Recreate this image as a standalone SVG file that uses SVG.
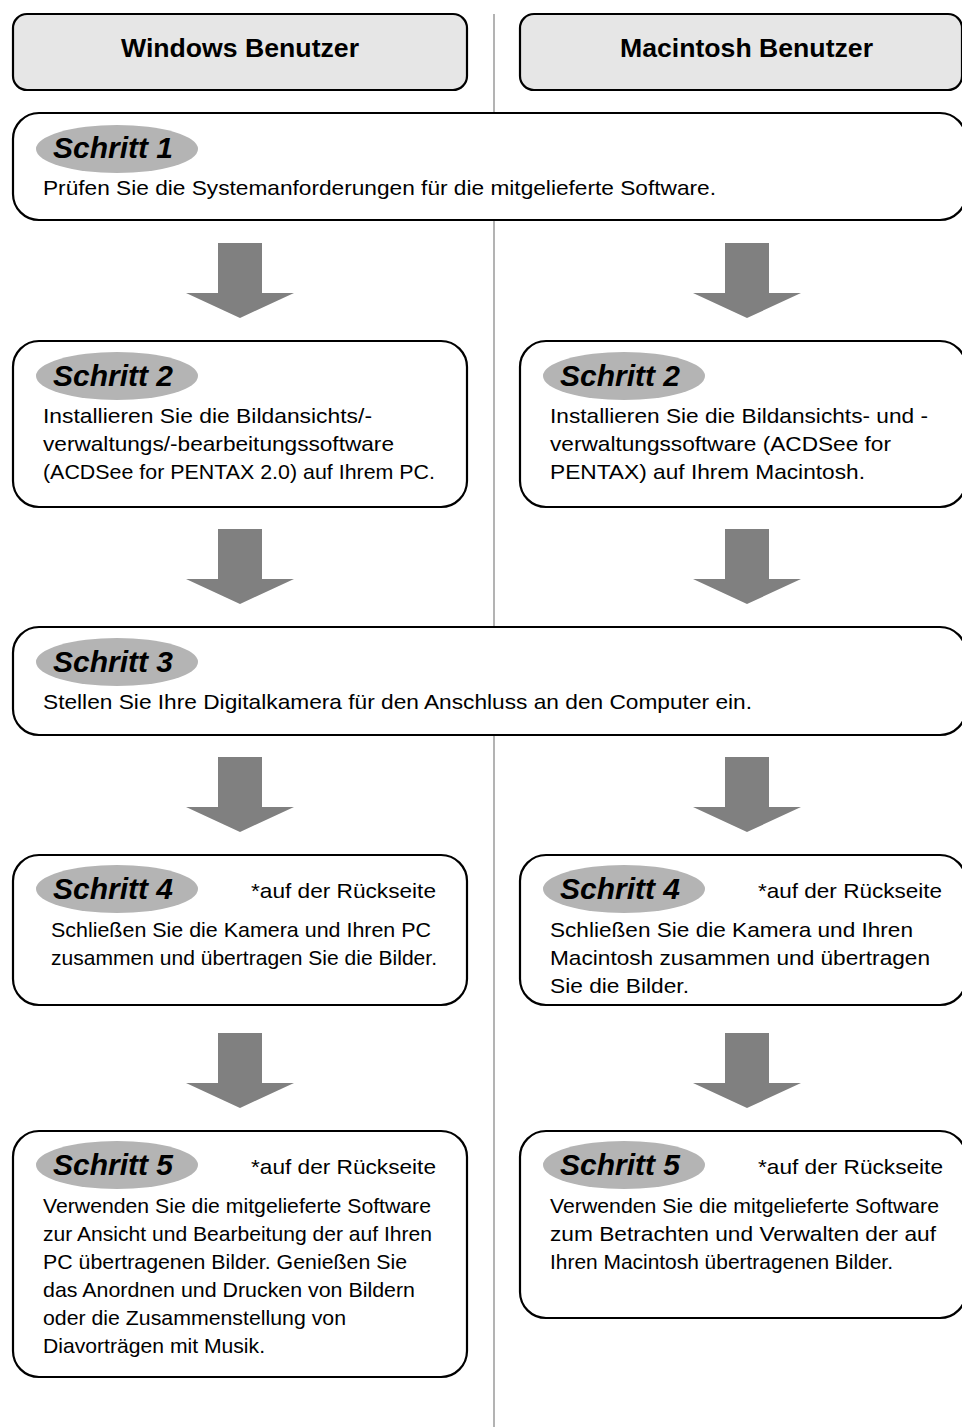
<svg xmlns="http://www.w3.org/2000/svg" width="962" height="1427" viewBox="0 0 962 1427">
<style>
.hdr{fill:#e6e6e6;stroke:#000;stroke-width:2.2}
.box{fill:#fff;stroke:#000;stroke-width:2.2}
.ell{fill:#b4b4b4}
.ht{font-family:"Liberation Sans",Arial,sans-serif;font-weight:bold;font-size:25px;fill:#000}
.st{font-family:"Liberation Sans",Arial,sans-serif;font-weight:bold;font-style:italic;font-size:30px;fill:#000}
.bt{font-family:"Liberation Sans",Arial,sans-serif;font-size:21px;fill:#000}
.arr{fill:#808080}
</style>
<defs>
<path id="arrow" d="M-22,0 H22 V50 H54 L0,75 L-54,50 H-22 Z"/>
</defs>
<line x1="494" y1="14" x2="494" y2="1427" stroke="#808080" stroke-width="1.2"/>
<g id="connectors">
<use href="#arrow" class="arr" x="240" y="243"/>
<use href="#arrow" class="arr" x="747" y="243"/>
<use href="#arrow" class="arr" x="240" y="529"/>
<use href="#arrow" class="arr" x="747" y="529"/>
<use href="#arrow" class="arr" x="240" y="757"/>
<use href="#arrow" class="arr" x="747" y="757"/>
<use href="#arrow" class="arr" x="240" y="1033"/>
<use href="#arrow" class="arr" x="747" y="1033"/>
</g>
<g id="hdr-win">
<rect class="hdr" x="13" y="14" width="454" height="76" rx="14"/>
<text class="ht" x="121" y="57" textLength="238" lengthAdjust="spacingAndGlyphs">Windows Benutzer</text>
</g>
<g id="hdr-mac">
<rect class="hdr" x="520" y="14" width="442" height="76" rx="14"/>
<text class="ht" x="620" y="57" textLength="253" lengthAdjust="spacingAndGlyphs">Macintosh Benutzer</text>
</g>
<g id="step1">
<rect class="box" x="13" y="113" width="953" height="107" rx="26"/>
<ellipse class="ell" cx="117" cy="149" rx="81" ry="24"/>
<text class="st" x="53" y="158">Schritt 1</text>
<text class="bt" x="43" y="195" textLength="673" lengthAdjust="spacingAndGlyphs">Prüfen Sie die Systemanforderungen für die mitgelieferte Software.</text>
</g>
<g id="step2-win">
<rect class="box" x="13" y="341" width="454" height="166" rx="26"/>
<ellipse class="ell" cx="117" cy="376" rx="81" ry="24"/>
<text class="st" x="53" y="386">Schritt 2</text>
<text class="bt" x="43" y="423" textLength="329" lengthAdjust="spacingAndGlyphs">Installieren Sie die Bildansichts/-</text>
<text class="bt" x="43" y="451" textLength="351" lengthAdjust="spacingAndGlyphs">verwaltungs/-bearbeitungssoftware</text>
<text class="bt" x="43" y="479" textLength="392" lengthAdjust="spacingAndGlyphs">(ACDSee for PENTAX 2.0) auf Ihrem PC.</text>
</g>
<g id="step2-mac">
<rect class="box" x="520" y="341" width="446" height="166" rx="26"/>
<ellipse class="ell" cx="624" cy="376" rx="81" ry="24"/>
<text class="st" x="560" y="386">Schritt 2</text>
<text class="bt" x="550" y="423" textLength="378" lengthAdjust="spacingAndGlyphs">Installieren Sie die Bildansichts- und -</text>
<text class="bt" x="550" y="451" textLength="341" lengthAdjust="spacingAndGlyphs">verwaltungssoftware (ACDSee for</text>
<text class="bt" x="550" y="479" textLength="315" lengthAdjust="spacingAndGlyphs">PENTAX) auf Ihrem Macintosh.</text>
</g>
<g id="step3">
<rect class="box" x="13" y="627" width="953" height="108" rx="26"/>
<ellipse class="ell" cx="117" cy="662" rx="81" ry="24"/>
<text class="st" x="53" y="672">Schritt 3</text>
<text class="bt" x="43" y="709" textLength="709" lengthAdjust="spacingAndGlyphs">Stellen Sie Ihre Digitalkamera für den Anschluss an den Computer ein.</text>
</g>
<g id="step4-win">
<rect class="box" x="13" y="855" width="454" height="150" rx="26"/>
<ellipse class="ell" cx="117" cy="889" rx="81" ry="24"/>
<text class="st" x="53" y="899">Schritt 4</text>
<text class="bt" x="251" y="898" textLength="185" lengthAdjust="spacingAndGlyphs">*auf der Rückseite</text>
<text class="bt" x="51" y="937" textLength="380" lengthAdjust="spacingAndGlyphs">Schließen Sie die Kamera und Ihren PC</text>
<text class="bt" x="51" y="965" textLength="386" lengthAdjust="spacingAndGlyphs">zusammen und übertragen Sie die Bilder.</text>
</g>
<g id="step4-mac">
<rect class="box" x="520" y="855" width="446" height="150" rx="26"/>
<ellipse class="ell" cx="624" cy="889" rx="81" ry="24"/>
<text class="st" x="560" y="899">Schritt 4</text>
<text class="bt" x="758" y="898" textLength="184" lengthAdjust="spacingAndGlyphs">*auf der Rückseite</text>
<text class="bt" x="550" y="937" textLength="363" lengthAdjust="spacingAndGlyphs">Schließen Sie die Kamera und Ihren</text>
<text class="bt" x="550" y="965" textLength="380" lengthAdjust="spacingAndGlyphs">Macintosh zusammen und übertragen</text>
<text class="bt" x="550" y="993" textLength="139" lengthAdjust="spacingAndGlyphs">Sie die Bilder.</text>
</g>
<g id="step5-win">
<rect class="box" x="13" y="1131" width="454" height="246" rx="26"/>
<ellipse class="ell" cx="117" cy="1165" rx="81" ry="24"/>
<text class="st" x="53" y="1175">Schritt 5</text>
<text class="bt" x="251" y="1174" textLength="185" lengthAdjust="spacingAndGlyphs">*auf der Rückseite</text>
<text class="bt" x="43" y="1213" textLength="388" lengthAdjust="spacingAndGlyphs">Verwenden Sie die mitgelieferte Software</text>
<text class="bt" x="43" y="1241" textLength="389" lengthAdjust="spacingAndGlyphs">zur Ansicht und Bearbeitung der auf Ihren</text>
<text class="bt" x="43" y="1269" textLength="364" lengthAdjust="spacingAndGlyphs">PC übertragenen Bilder. Genießen Sie</text>
<text class="bt" x="43" y="1297" textLength="372" lengthAdjust="spacingAndGlyphs">das Anordnen und Drucken von Bildern</text>
<text class="bt" x="43" y="1325" textLength="303" lengthAdjust="spacingAndGlyphs">oder die Zusammenstellung von</text>
<text class="bt" x="43" y="1353" textLength="222" lengthAdjust="spacingAndGlyphs">Diavorträgen mit Musik.</text>
</g>
<g id="step5-mac">
<rect class="box" x="520" y="1131" width="446" height="187" rx="26"/>
<ellipse class="ell" cx="624" cy="1165" rx="81" ry="24"/>
<text class="st" x="560" y="1175">Schritt 5</text>
<text class="bt" x="758" y="1174" textLength="185" lengthAdjust="spacingAndGlyphs">*auf der Rückseite</text>
<text class="bt" x="550" y="1213" textLength="389" lengthAdjust="spacingAndGlyphs">Verwenden Sie die mitgelieferte Software</text>
<text class="bt" x="550" y="1241" textLength="386" lengthAdjust="spacingAndGlyphs">zum Betrachten und Verwalten der auf</text>
<text class="bt" x="550" y="1269" textLength="343" lengthAdjust="spacingAndGlyphs">Ihren Macintosh übertragenen Bilder.</text>
</g>
</svg>
